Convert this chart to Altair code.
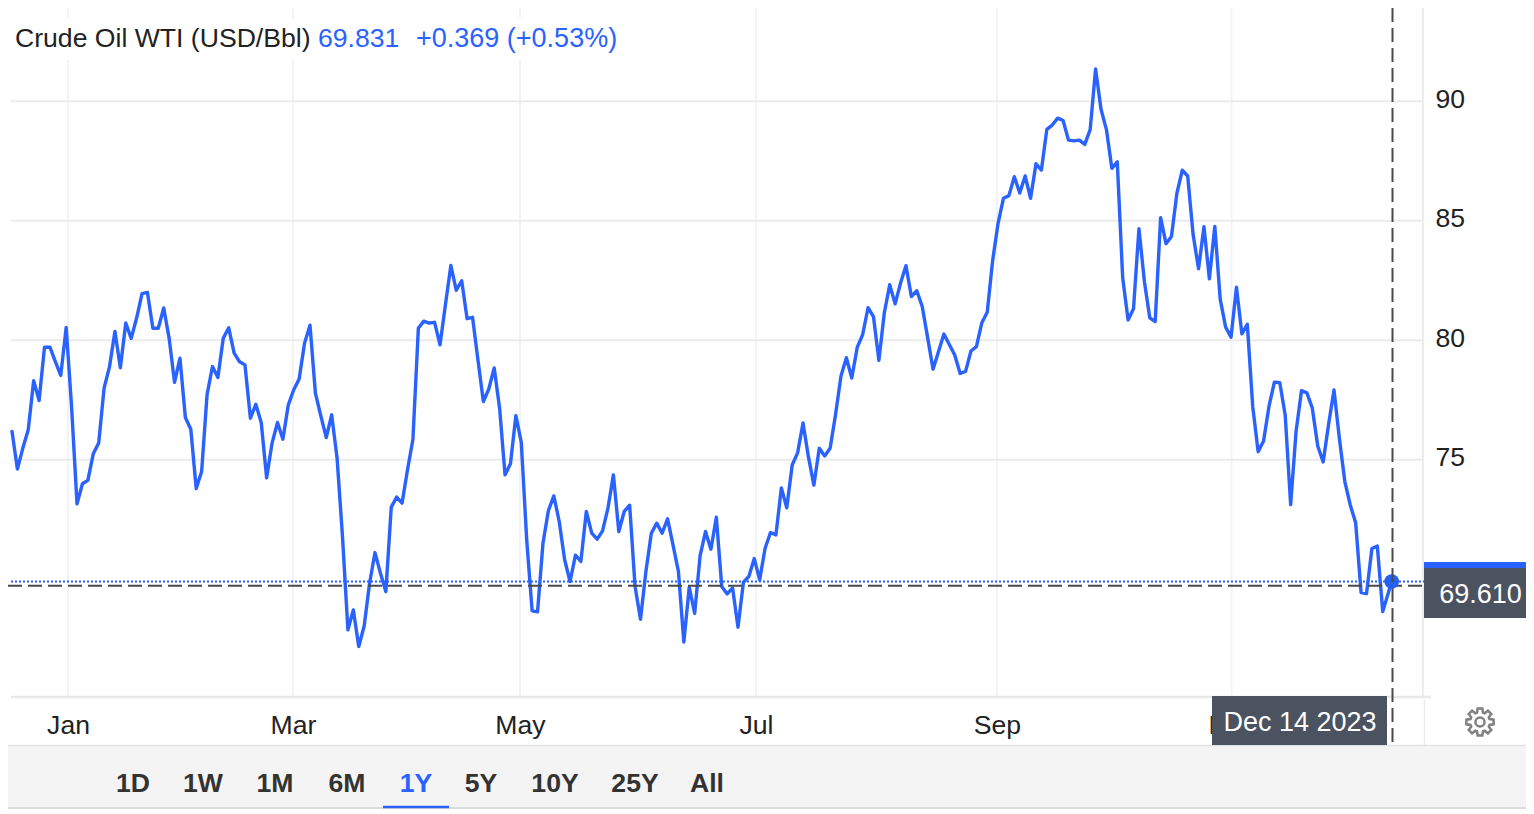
import math
import altair as alt
import pandas as pd

FONT = "Liberation Sans"
BLUE = "#2962ff"
DARK = "#222222"
BOX = "#4b5260"

prices = [
    76.19, 74.61, 75.49, 76.26, 78.31, 77.48, 79.71, 79.71, 79.11, 78.53,
    80.54, 77.20, 73.16, 74.00, 74.14, 75.25, 75.70, 78.00, 78.90, 80.37,
    78.85, 80.72, 80.08, 80.93, 81.95, 82.00, 80.50, 80.50, 81.35, 80.09,
    78.24, 79.25, 76.77, 76.28, 73.80, 74.51, 77.72, 78.90, 78.44, 80.09,
    80.52, 79.46, 79.10, 78.97, 76.74, 77.32, 76.56, 74.25, 75.70, 76.56,
    75.86, 77.30, 77.93, 78.38, 79.88, 80.63, 77.79, 76.84, 75.93, 76.88,
    75.07, 71.79, 67.89, 68.72, 67.19, 68.05, 69.84, 71.12, 70.26, 69.49,
    73.02, 73.44, 73.19, 74.58, 75.86, 80.50, 80.80, 80.72, 80.75, 79.81,
    81.49, 83.13, 82.09, 82.49, 80.90, 80.96, 79.18, 77.44, 77.96, 78.84,
    77.16, 74.37, 74.83, 76.85, 75.73, 71.65, 68.68, 68.64, 71.51, 72.87,
    73.49, 72.42, 70.82, 69.91, 71.01, 70.75, 72.84, 71.93, 71.68, 72.03,
    72.98, 74.37, 72.00, 72.84, 73.10, 69.70, 68.33, 70.33, 71.93, 72.35,
    71.93, 72.53, 71.44, 70.33, 67.38, 69.67, 68.58, 70.98, 72.00, 71.26,
    72.60, 69.70, 69.39, 69.64, 68.00, 69.88, 70.12, 70.87, 69.98, 71.30,
    71.96, 71.86, 73.82, 72.99, 74.78, 75.29, 76.54, 75.12, 73.94, 75.48,
    75.16, 75.48, 76.88, 78.50, 79.27, 78.42, 79.70, 80.23, 81.36, 80.99,
    79.16, 81.14, 82.32, 81.52, 82.39, 83.12, 81.83, 82.07, 81.41, 80.11,
    78.79, 79.52, 80.26, 79.82, 79.38, 78.61, 78.70, 79.55, 79.73, 80.73,
    81.17, 83.34, 84.89, 85.94, 86.05, 86.84, 86.16, 86.87, 85.94, 87.38,
    87.12, 88.82, 89.00, 89.29, 89.19, 88.37, 88.34, 88.37, 88.19, 88.81,
    91.35, 89.66, 88.81, 87.19, 87.46, 82.61, 80.85, 81.32, 84.67, 82.47,
    80.94, 80.78, 85.13, 84.04, 84.34, 86.14, 87.11, 86.87, 84.42, 82.99,
    84.75, 82.57, 84.76, 81.72, 80.55, 80.13, 82.22, 80.27, 80.67, 77.23,
    75.34, 75.79, 77.23, 78.25, 78.22, 76.86, 73.13, 76.18, 77.89, 77.80,
    77.16, 75.58, 74.91, 76.48, 77.92, 75.88, 74.09, 73.11, 72.37, 69.45,
    69.40, 71.29, 71.39, 68.65, 69.91,
]
sessions = list(range(254)) + [254.65]

month_sessions = [10.34, 51.86, 93.76, 137.32, 181.8, 225.1]
month_labels = ["Jan", "Mar", "May", "Jul", "Sep", "Nov"]
price_ticks = [75, 80, 85, 90]
last_price = 69.91
cross_price = 69.73
last_session = 254.65
cross_session = 254.8

tab_labels = ["1D", "1W", "1M", "6M", "1Y", "5Y", "10Y", "25Y", "All"]
tab_centers = [133, 203, 275, 347, 416, 481, 555, 635, 707]

W, H = 1518, 801
x_scale = alt.Scale(domain=[-0.738, 279.44], nice=False, zero=False)
y_scale = alt.Scale(domain=[60.395, 93.896], nice=False, zero=False)

label_map = "{" + ",".join(f"'{s}':'{m}'" for s, m in zip(month_sessions, month_labels)) + "}"
x_axis = alt.Axis(
    orient="bottom", offset=689 - H, values=month_sessions,
    labelExpr=f"{label_map}[''+datum.value]", grid=False, domain=False,
    ticks=False, labelFont=FONT, labelFontSize=26.6, labelColor=DARK,
    labelPadding=15, labelOverlap=False, labelFlush=False, title=None)
y_axis = alt.Axis(
    orient="right", offset=1416 - W, values=price_ticks, grid=False,
    domain=False, ticks=False, labelFont=FONT, labelFontSize=26.6,
    labelColor=DARK, labelPadding=11, labelOffset=-2, labelOverlap=False,
    labelFlush=False, format="d", title=None)

one = pd.DataFrame({"a": [0]})


def box(x0, x1, y0, y1, color):
    return alt.Chart(one).mark_rect(color=color).encode(
        x=alt.value(x0 - 8), x2=alt.value(min(x1 - 8, W)),
        y=alt.value(y0 - 8), y2=alt.value(y1 - 8))


def hline(x0, x1, y, color, width=2):
    return alt.Chart(one).mark_rule(color=color, strokeWidth=width).encode(
        x=alt.value(x0 - 8), x2=alt.value(min(x1 - 8, W)), y=alt.value(y - 8))


def vline(x, y0, y1, color, width=2):
    return alt.Chart(one).mark_rule(color=color, strokeWidth=width).encode(
        x=alt.value(x - 8), y=alt.value(y0 - 8), y2=alt.value(y1 - 8))


def label(txt, x, y, color=DARK, size=26.6, align="left", weight="normal"):
    return alt.Chart(pd.DataFrame({"t": [txt]})).mark_text(
        font=FONT, fontSize=size, color=color, align=align,
        baseline="alphabetic", fontWeight=weight,
    ).encode(text="t:N", x=alt.value(x - 8), y=alt.value(y - 8))


def qx(field="session"):
    return alt.X(f"{field}:Q", scale=x_scale, title=None, axis=x_axis)


def qy(field="price"):
    return alt.Y(f"{field}:Q", scale=y_scale, title=None, axis=y_axis)


line_df = pd.DataFrame({"session": sessions, "price": prices})
line = alt.Chart(line_df).mark_line(
    color=BLUE, strokeWidth=3.4, strokeJoin="round", strokeCap="round"
).encode(x=qx(), y=qy())

h_grid = alt.Chart(pd.DataFrame({"price": price_ticks})).mark_rule(
    color="#ebebeb", strokeWidth=2
).encode(y=qy(), x=alt.value(11 - 8), x2=alt.value(1423 - 8))

v_grid = alt.Chart(pd.DataFrame({"session": month_sessions})).mark_rule(
    color="#f0f3f7", strokeWidth=2
).encode(x=qx(), y=alt.value(0), y2=alt.value(697 - 8))

last_line = alt.Chart(pd.DataFrame({"price": [last_price]})).mark_rule(
    color=BLUE, strokeWidth=2, strokeDash=[2, 2]
).encode(y=qy(), x=alt.value(11 - 8), x2=alt.value(1424 - 8))

cross_h = alt.Chart(pd.DataFrame({"price": [cross_price]})).mark_rule(
    color="#4a4a4a", strokeWidth=2, strokeDash=[14, 6]
).encode(y=qy(), x=alt.value(0), x2=alt.value(1424 - 8))

cross_v = alt.Chart(pd.DataFrame({"session": [cross_session]})).mark_rule(
    color="#4a4a4a", strokeWidth=2, strokeDash=[14, 6]
).encode(x=qx(), y=alt.value(0), y2=alt.value(745 - 8))

dot = alt.Chart(pd.DataFrame({"session": [last_session], "price": [last_price]})).mark_circle(
    color="#2560f0", opacity=1, size=215
).encode(x=qx(), y=qy())

# gear icon outline
pts = []
teeth = 8
for k in range(teeth):
    a = 2 * math.pi * k / teeth
    for da, r in [(-0.30, 0.72), (-0.17, 1.0), (0.17, 1.0), (0.30, 0.72)]:
        pts.append((r * math.cos(a + da), r * math.sin(a + da)))
gear_path = "M" + " L".join(f"{px:.3f} {py:.3f}" for px, py in pts) + " Z "
gear_path += "M0.33 0 A0.33 0.33 0 1 0 -0.33 0 A0.33 0.33 0 1 0 0.33 0 Z"
gear = alt.Chart(one).mark_point(
    shape=gear_path, filled=False, stroke="#808080", strokeWidth=2.5, size=760, opacity=1
).encode(x=alt.value(1480 - 8), y=alt.value(722 - 8))

tabs = [label(t, c, 792, color=BLUE if t == "1Y" else "#333333", align="center", weight="bold")
        for t, c in zip(tab_labels, tab_centers)]

layers = [
    box(0, 1534, 745, 808, "#f4f4f4"),
    hline(0, 1534, 745.5, "#e2e2e2", 1.5),
    hline(0, 1534, 808, "#dcdcdc", 2),
    v_grid,
    h_grid,
    vline(1423, 0, 697, "#ececec", 2),
    vline(1424.5, 700, 745, "#ececec", 1.5),
    hline(11, 1431, 697, "#e8e8e8", 2.5),
    box(0, 625, 18, 60, "#ffffff"),
    line,
    last_line,
    cross_h,
    dot,
    cross_v,
    box(1424, 1534, 562, 568, BLUE),
    box(1424, 1534, 568, 618, BOX),
    box(1212, 1387, 696, 745, BOX),
    label("69.610", 1480.5, 603, color="#ffffff", size=27, align="center"),
    label("Dec 14 2023", 1300, 731, color="#ffffff", size=27, align="center"),
    label("Crude Oil WTI (USD/Bbl)", 15, 47),
    label("69.831", 318, 47, color=BLUE),
    label("+0.369 (+0.53%)", 416, 47, color=BLUE, size=27),
    gear,
    hline(383, 449, 807, BLUE, 2.5),
] + tabs

chart = alt.layer(*layers).properties(
    width=W, height=H, padding=0, autosize=alt.AutoSizeParams(type="none"),
    background="#ffffff",
).configure_view(stroke=None)

chart.save("out.html", embed_options={"renderer": "svg", "actions": False})
